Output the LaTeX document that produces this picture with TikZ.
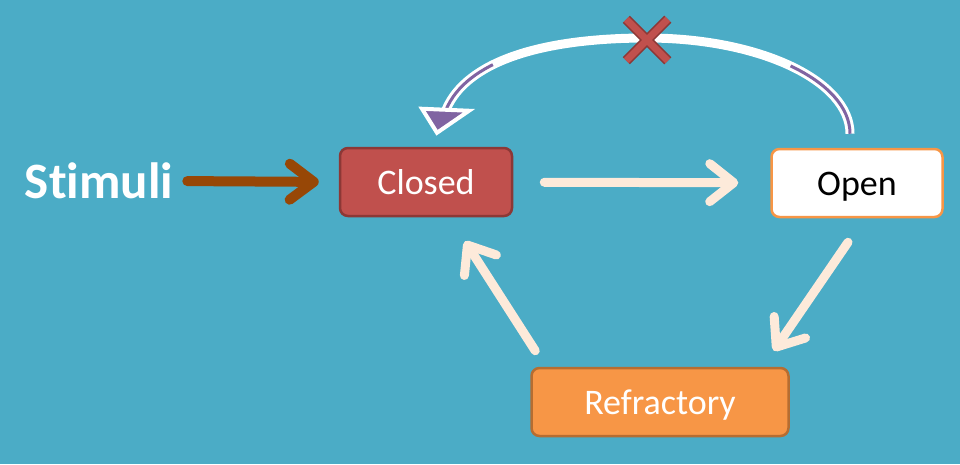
\documentclass[tikz,border=0pt]{standalone}
\usepackage{fontspec}
\setmainfont[Ligatures=NoCommon]{Carlito}
\usetikzlibrary{arrows.meta,calc,shapes.misc}

\definecolor{bgaqua}{HTML}{4BACC6}
\definecolor{closedred}{HTML}{C0504D}
\definecolor{closedline}{HTML}{8C3836}
\definecolor{openline}{HTML}{F79646}
\definecolor{refrorange}{HTML}{F79646}
\definecolor{refrline}{HTML}{B66D31}
\definecolor{cream}{HTML}{FDEADA}
\definecolor{stimbrown}{HTML}{974706}
\definecolor{arcpurple}{HTML}{8064A2}

\begin{document}
\begin{tikzpicture}[x=1pt, y=-1pt,
  state/.style={rounded corners=8pt, line width=2.5pt, minimum height=68pt, inner sep=0pt,
    text height=25pt, text depth=0pt, font=\fontsize{36}{40}\selectfont},
  flow/.style={cream, line width=9pt, line cap=round,
    -{Straight Barb[round, length=24pt, width=38pt]}}]

% Fond
\fill[bgaqua] (0,0) rectangle (960,464);

% Etats du canal
\node[state, fill=closedred, draw=closedline, text=white, minimum width=172pt] (closed) at (426,182) {Closed};
\node[state, fill=white, draw=openline, text=black, minimum width=171pt] (open) at (857,183) {Open};
\node[state, fill=refrorange, draw=refrline, text=white, minimum width=257pt] (refractory) at (660,402) {Refractory};

% Stimulus
\node[font=\bfseries\fontsize{51}{56}\selectfont, text=white, inner sep=0pt] (stimuli) at (99,181) {Stimuli};
\draw[stimbrown, line width=10pt, line cap=round, -{Straight Barb[round, length=24pt, width=36pt]},
  shorten <=14pt, shorten >=20pt] (stimuli.east) -- (closed.west);

% Transitions
\draw[flow, shorten <=31pt, shorten >=32pt] (closed) -- (open);
\draw[flow] ($(open.south)+(-9,24)$) -- ($(refractory.north east)+(-16,-16)$);
\draw[flow] ($(refractory.north west)+(5,-16)$) -- ($(closed.south)+(39,24)$);

% Retour bloque
\coordinate (arcstart) at ($(open.north)+(-7,-14)$);
\coordinate (arcend) at ($(closed.north)+(20,-37)$);
\draw[white, line width=9pt] (arcstart) .. controls (850,81) and (760,38) .. (647,38)
  .. controls (540,38) and (466,62) .. (arcend);
\draw[arcpurple, line width=3pt, dash pattern=on 95pt off 305pt on 200pt] (arcstart)
  .. controls (850,81) and (760,38) .. (647,38) .. controls (540,38) and (466,62) .. (arcend);
\filldraw[fill=arcpurple, draw=white, line width=4pt] ($(arcend)+(-24,-1)$) -- ($(arcend)+(-9,23)$)
  -- ($(arcend)+(23,1)$) -- cycle;

\node[cross out, draw=closedline, double=closedred, double distance=7pt, line width=1.5pt,
  minimum size=40pt, inner sep=0pt] (blocked) at (647,40) {};

\end{tikzpicture}
\end{document}
